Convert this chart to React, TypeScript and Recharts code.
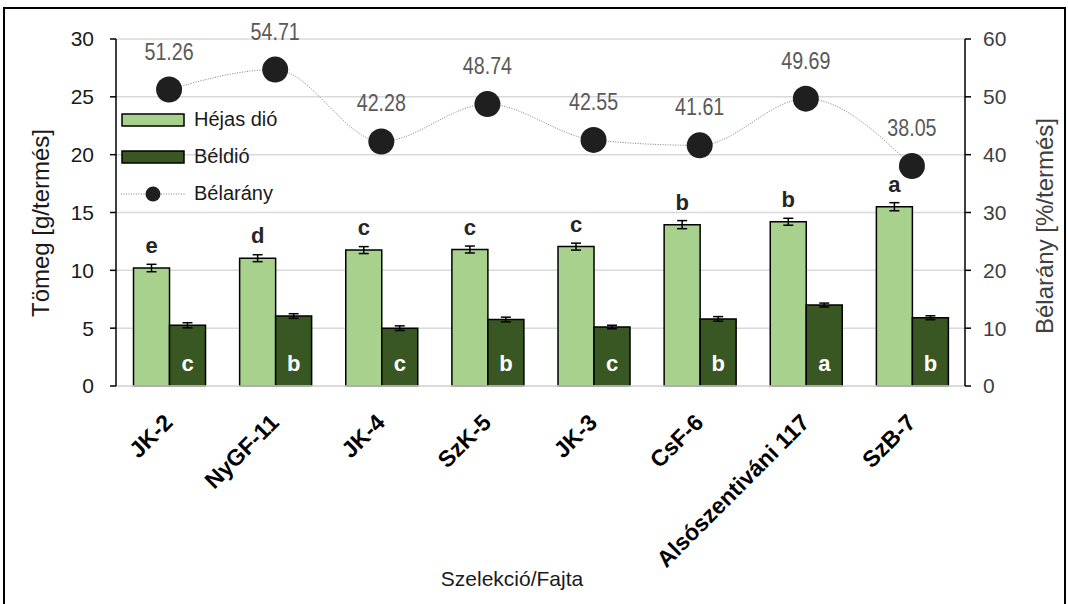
import React from 'react'
import {
  ComposedChart,
  Bar,
  Line,
  XAxis,
  YAxis,
  CartesianGrid,
  Legend,
  LabelList,
  ErrorBar,
  Label
} from 'recharts'

const categories = ['JK-2', 'NyGF-11', 'JK-4', 'SzK-5', 'JK-3', 'CsF-6', 'Alsószentiváni 117', 'SzB-7']
const hejas = [10.2, 11.05, 11.75, 11.8, 12.05, 13.95, 14.2, 15.5]
const hejasErr = [0.32, 0.3, 0.3, 0.3, 0.3, 0.35, 0.3, 0.35]
const beldio = [5.25, 6.05, 5.0, 5.75, 5.1, 5.8, 7.0, 5.9]
const beldioErr = [0.22, 0.2, 0.2, 0.2, 0.15, 0.2, 0.17, 0.17]
const belarany = [51.26, 54.71, 42.28, 48.74, 42.55, 41.61, 49.69, 38.05]
const hejasLetters = ['e', 'd', 'c', 'c', 'c', 'b', 'b', 'a']
const beldioLetters = ['c', 'b', 'c', 'b', 'c', 'b', 'a', 'b']
const leftTicks = [0, 5, 10, 15, 20, 25, 30]
const rightTicks = [0, 10, 20, 30, 40, 50, 60]

const data = categories.map((name, i) => ({
  name,
  hejas: hejas[i],
  hejasErr: hejasErr[i],
  beldio: beldio[i],
  beldioErr: beldioErr[i],
  belarany: belarany[i],
  hejasLetter: hejasLetters[i],
  beldioLetter: beldioLetters[i]
}))

const LIGHT = '#a9d18e'
const DARK = '#385723'

// rotated, bold category names; the end of the text sits just right of the category centre
const CategoryTick = ({ x, y, payload }: any) => (
  <g transform={`translate(${x + 5},${y + 30})`}>
    <text textAnchor="end" transform="rotate(-45)" fontSize={23} fontWeight={700} fill="#000">
      {payload.value}
    </text>
  </g>
)

const TopLetter = ({ x, y, width, value }: any) => (
  <text x={x + width / 2} y={y - 15} textAnchor="middle" fontSize={22} fontWeight={700} fill="#262626">
    {value}
  </text>
)

const InnerLetter = ({ x, y, width, height, value }: any) => (
  <text x={x + width / 2} y={y + height - 15} textAnchor="middle" fontSize={22} fontWeight={700} fill="#fff">
    {value}
  </text>
)

// the original uses a narrow face for these numbers, so squeeze them a bit
const RatioLabel = ({ x, y, value }: any) => (
  <text
    transform={`translate(${x},${y - 30}) scale(0.82,1)`}
    textAnchor="middle"
    fontSize={24}
    fill="#595959"
  >
    {Number(value).toFixed(2)}
  </text>
)

const RatioDot = (props: any) => {
  const { cx, cy, index } = props
  return <circle key={`dot-${index}`} cx={cx} cy={cy} r={13} fill="#1f1f1f" />
}

const renderLegend = () => {
  const row = { display: 'flex', alignItems: 'center', height: 37 }
  const text = { fontSize: 20, color: '#1a1a1a', marginLeft: 9 }
  return (
    <div>
      <div style={row}>
        <svg width={64} height={16}><rect x={1} y={2} width={62} height={12} fill={LIGHT} stroke="#000" strokeWidth={1.5} /></svg>
        <span style={text}>Héjas dió</span>
      </div>
      <div style={row}>
        <svg width={64} height={16}><rect x={1} y={2} width={62} height={12} fill={DARK} stroke="#000" strokeWidth={1.5} /></svg>
        <span style={text}>Béldió</span>
      </div>
      <div style={row}>
        <svg width={64} height={18}>
          <line x1={0} y1={9} x2={64} y2={9} stroke="#7f7f7f" strokeWidth={1} strokeDasharray="1 1.5" />
          <circle cx={32} cy={9} r={7.5} fill="#1f1f1f" />
        </svg>
        <span style={text}>Bélarány</span>
      </div>
    </div>
  )
}

export default function App() {
  return (
    <div style={{ position: 'absolute', left: 0, top: 0, width: 1068, height: 604, overflow: 'hidden', background: '#fff', fontFamily: '"Liberation Sans", Arial, sans-serif' }}>
      <div style={{ position: 'absolute', left: 3, top: 7, width: 1059, height: 640, border: '2px solid #000' }} />
      <ComposedChart
        width={1068}
        height={604}
        data={data}
        margin={{ top: 39, right: 43, left: 0, bottom: 0 }}
        barCategoryGap="16.5%"
        barGap={0}
      >
        <CartesianGrid yAxisId="left" vertical={false} stroke="#d9d9d9" strokeWidth={1.5} />
        <XAxis
          dataKey="name"
          interval={0}
          height={218}
          tickLine={false}
          axisLine={{ stroke: '#d9d9d9', strokeWidth: 1.5 }}
          tick={<CategoryTick />}
        >
          <Label
            content={() => (
              <text x={512} y={586} textAnchor="middle" fontSize={21} fill="#1a1a1a">Szelekció/Fajta</text>
            )}
          />
        </XAxis>
        <YAxis
          yAxisId="left"
          domain={[0, 30]}
          ticks={leftTicks}
          width={116}
          tickSize={6}
          tickMargin={16}
          tick={{ fontSize: 21, fill: '#1a1a1a' }}
          axisLine={{ stroke: '#000', strokeWidth: 1.5 }}
          tickLine={{ stroke: '#000', strokeWidth: 1.5 }}
        >
          <Label
            content={() => (
              <text x={49} y={223} transform="rotate(-90 49 223)" textAnchor="middle" fontSize={24} fill="#1a1a1a">Tömeg [g/termés]</text>
            )}
          />
        </YAxis>
        <YAxis
          yAxisId="right"
          orientation="right"
          domain={[0, 60]}
          ticks={rightTicks}
          width={60}
          tickSize={6}
          tickMargin={12}
          tick={{ fontSize: 21, fill: '#404040' }}
          axisLine={{ stroke: '#000', strokeWidth: 1.5 }}
          tickLine={{ stroke: '#000', strokeWidth: 1.5 }}
        >
          <Label
            content={() => (
              <text x={1053} y={226} transform="rotate(-90 1053 226)" textAnchor="middle" fontSize={24} fill="#404040">Bélarány [%/termés]</text>
            )}
          />
        </YAxis>
        <Legend
          layout="vertical"
          align="center"
          verticalAlign="middle"
          content={renderLegend}
          wrapperStyle={{ left: 121, top: 101, width: 220 }}
        />
        <Bar yAxisId="left" dataKey="hejas" name="Héjas dió" fill={LIGHT} stroke="#000" strokeWidth={1.5} isAnimationActive={false}>
          <ErrorBar dataKey="hejasErr" width={5} stroke="#000" strokeWidth={1.5} direction="y" />
          <LabelList dataKey="hejasLetter" content={<TopLetter />} />
        </Bar>
        <Bar yAxisId="left" dataKey="beldio" name="Béldió" fill={DARK} stroke="#000" strokeWidth={1.5} isAnimationActive={false}>
          <ErrorBar dataKey="beldioErr" width={5} stroke="#000" strokeWidth={1.5} direction="y" />
          <LabelList dataKey="beldioLetter" content={<InnerLetter />} />
        </Bar>
        <Line
          yAxisId="right"
          dataKey="belarany"
          name="Bélarány"
          type="monotone"
          stroke="#7f7f7f"
          strokeWidth={1}
          strokeDasharray="1 1.5"
          dot={RatioDot}
          activeDot={false}
          isAnimationActive={false}
        >
          <LabelList dataKey="belarany" content={<RatioLabel />} />
        </Line>
      </ComposedChart>
    </div>
  )
}
